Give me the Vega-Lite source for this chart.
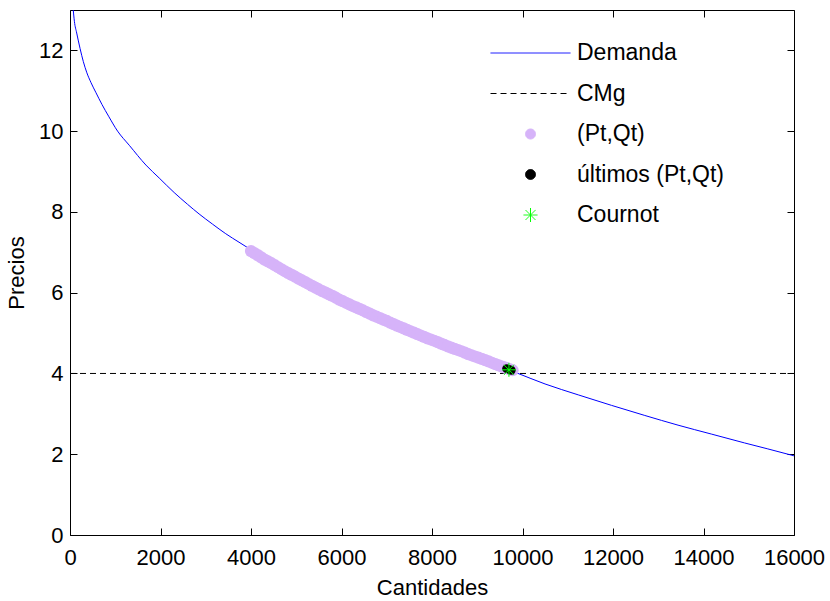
{
  "$schema": "https://vega.github.io/schema/vega-lite/v6.json",
  "width": 724,
  "height": 525,
  "autosize": {"type": "none"},
  "padding": {"left": 70, "top": 10, "right": 36, "bottom": 66},
  "background": "white",
  "config": {
    "font": "Liberation Sans",
    "view": {"stroke": null},
    "axis": {
      "domainColor": "black",
      "domainWidth": 1,
      "tickColor": "black",
      "tickWidth": 1,
      "tickSize": -7,
      "grid": false,
      "labelColor": "black",
      "labelFont": "Liberation Sans",
      "labelFontSize": 22,
      "titleColor": "black",
      "titleFont": "Liberation Sans",
      "titleFontSize": 22,
      "titleFontWeight": "normal"
    }
  },
  "data": {
    "values": [
      {"series": "Demanda", "Q": 72, "P": 13.0},
      {"series": "Demanda", "Q": 97, "P": 12.72},
      {"series": "Demanda", "Q": 148, "P": 12.43},
      {"series": "Demanda", "Q": 222, "P": 12.05},
      {"series": "Demanda", "Q": 295, "P": 11.72},
      {"series": "Demanda", "Q": 368, "P": 11.46},
      {"series": "Demanda", "Q": 465, "P": 11.2},
      {"series": "Demanda", "Q": 575, "P": 10.95},
      {"series": "Demanda", "Q": 707, "P": 10.66},
      {"series": "Demanda", "Q": 853, "P": 10.37},
      {"series": "Demanda", "Q": 1052, "P": 10.0},
      {"series": "Demanda", "Q": 1310, "P": 9.65},
      {"series": "Demanda", "Q": 1678, "P": 9.16},
      {"series": "Demanda", "Q": 1971, "P": 8.84},
      {"series": "Demanda", "Q": 2302, "P": 8.48},
      {"series": "Demanda", "Q": 2596, "P": 8.19},
      {"series": "Demanda", "Q": 2853, "P": 7.95},
      {"series": "Demanda", "Q": 3147, "P": 7.7},
      {"series": "Demanda", "Q": 3442, "P": 7.46},
      {"series": "Demanda", "Q": 3735, "P": 7.25},
      {"series": "Demanda", "Q": 3919, "P": 7.12},
      {"series": "Demanda", "Q": 4030, "P": 7.04},
      {"series": "Demanda", "Q": 5426, "P": 6.13},
      {"series": "Demanda", "Q": 6896, "P": 5.35},
      {"series": "Demanda", "Q": 8366, "P": 4.67},
      {"series": "Demanda", "Q": 9101, "P": 4.36},
      {"series": "Demanda", "Q": 9652, "P": 4.11},
      {"series": "Demanda", "Q": 9836, "P": 4.03},
      {"series": "Demanda", "Q": 10498, "P": 3.74},
      {"series": "Demanda", "Q": 11232, "P": 3.47},
      {"series": "Demanda", "Q": 11967, "P": 3.21},
      {"series": "Demanda", "Q": 12703, "P": 2.96},
      {"series": "Demanda", "Q": 13437, "P": 2.72},
      {"series": "Demanda", "Q": 14172, "P": 2.5},
      {"series": "Demanda", "Q": 14907, "P": 2.28},
      {"series": "Demanda", "Q": 15936, "P": 1.98},
      {"series": "Demanda", "Q": 16000, "P": 1.96},
      {"series": "CMg", "Q": 0, "P": 4},
      {"series": "CMg", "Q": 16000, "P": 4},
      {"series": "(Pt,Qt)", "Q": 4000, "P": 7.03},
      {"series": "(Pt,Qt)", "Q": 4075, "P": 6.98},
      {"series": "(Pt,Qt)", "Q": 4150, "P": 6.93},
      {"series": "(Pt,Qt)", "Q": 4225, "P": 6.875},
      {"series": "(Pt,Qt)", "Q": 4300, "P": 6.82},
      {"series": "(Pt,Qt)", "Q": 4375, "P": 6.775},
      {"series": "(Pt,Qt)", "Q": 4450, "P": 6.73},
      {"series": "(Pt,Qt)", "Q": 4525, "P": 6.68},
      {"series": "(Pt,Qt)", "Q": 4600, "P": 6.63},
      {"series": "(Pt,Qt)", "Q": 4675, "P": 6.58},
      {"series": "(Pt,Qt)", "Q": 4750, "P": 6.53},
      {"series": "(Pt,Qt)", "Q": 4825, "P": 6.485},
      {"series": "(Pt,Qt)", "Q": 4900, "P": 6.44},
      {"series": "(Pt,Qt)", "Q": 4975, "P": 6.395},
      {"series": "(Pt,Qt)", "Q": 5050, "P": 6.35},
      {"series": "(Pt,Qt)", "Q": 5125, "P": 6.305},
      {"series": "(Pt,Qt)", "Q": 5200, "P": 6.26},
      {"series": "(Pt,Qt)", "Q": 5275, "P": 6.215},
      {"series": "(Pt,Qt)", "Q": 5350, "P": 6.17},
      {"series": "(Pt,Qt)", "Q": 5425, "P": 6.125},
      {"series": "(Pt,Qt)", "Q": 5500, "P": 6.08},
      {"series": "(Pt,Qt)", "Q": 5575, "P": 6.04},
      {"series": "(Pt,Qt)", "Q": 5650, "P": 6.0},
      {"series": "(Pt,Qt)", "Q": 5725, "P": 5.96},
      {"series": "(Pt,Qt)", "Q": 5800, "P": 5.92},
      {"series": "(Pt,Qt)", "Q": 5875, "P": 5.875},
      {"series": "(Pt,Qt)", "Q": 5950, "P": 5.83},
      {"series": "(Pt,Qt)", "Q": 6025, "P": 5.79},
      {"series": "(Pt,Qt)", "Q": 6100, "P": 5.75},
      {"series": "(Pt,Qt)", "Q": 6175, "P": 5.71},
      {"series": "(Pt,Qt)", "Q": 6250, "P": 5.67},
      {"series": "(Pt,Qt)", "Q": 6325, "P": 5.635},
      {"series": "(Pt,Qt)", "Q": 6400, "P": 5.6},
      {"series": "(Pt,Qt)", "Q": 6475, "P": 5.56},
      {"series": "(Pt,Qt)", "Q": 6550, "P": 5.52},
      {"series": "(Pt,Qt)", "Q": 6625, "P": 5.48},
      {"series": "(Pt,Qt)", "Q": 6700, "P": 5.44},
      {"series": "(Pt,Qt)", "Q": 6775, "P": 5.405},
      {"series": "(Pt,Qt)", "Q": 6850, "P": 5.37},
      {"series": "(Pt,Qt)", "Q": 6925, "P": 5.335},
      {"series": "(Pt,Qt)", "Q": 7000, "P": 5.3},
      {"series": "(Pt,Qt)", "Q": 7075, "P": 5.26},
      {"series": "(Pt,Qt)", "Q": 7150, "P": 5.22},
      {"series": "(Pt,Qt)", "Q": 7225, "P": 5.185},
      {"series": "(Pt,Qt)", "Q": 7300, "P": 5.15},
      {"series": "(Pt,Qt)", "Q": 7375, "P": 5.115},
      {"series": "(Pt,Qt)", "Q": 7450, "P": 5.08},
      {"series": "(Pt,Qt)", "Q": 7525, "P": 5.045},
      {"series": "(Pt,Qt)", "Q": 7600, "P": 5.01},
      {"series": "(Pt,Qt)", "Q": 7675, "P": 4.975},
      {"series": "(Pt,Qt)", "Q": 7750, "P": 4.94},
      {"series": "(Pt,Qt)", "Q": 7825, "P": 4.905},
      {"series": "(Pt,Qt)", "Q": 7900, "P": 4.87},
      {"series": "(Pt,Qt)", "Q": 7975, "P": 4.84},
      {"series": "(Pt,Qt)", "Q": 8050, "P": 4.81},
      {"series": "(Pt,Qt)", "Q": 8125, "P": 4.775},
      {"series": "(Pt,Qt)", "Q": 8200, "P": 4.74},
      {"series": "(Pt,Qt)", "Q": 8275, "P": 4.705},
      {"series": "(Pt,Qt)", "Q": 8350, "P": 4.67},
      {"series": "(Pt,Qt)", "Q": 8425, "P": 4.64},
      {"series": "(Pt,Qt)", "Q": 8500, "P": 4.61},
      {"series": "(Pt,Qt)", "Q": 8575, "P": 4.58},
      {"series": "(Pt,Qt)", "Q": 8650, "P": 4.55},
      {"series": "(Pt,Qt)", "Q": 8725, "P": 4.515},
      {"series": "(Pt,Qt)", "Q": 8800, "P": 4.48},
      {"series": "(Pt,Qt)", "Q": 8875, "P": 4.45},
      {"series": "(Pt,Qt)", "Q": 8950, "P": 4.42},
      {"series": "(Pt,Qt)", "Q": 9025, "P": 4.39},
      {"series": "(Pt,Qt)", "Q": 9100, "P": 4.36},
      {"series": "(Pt,Qt)", "Q": 9175, "P": 4.33},
      {"series": "(Pt,Qt)", "Q": 9250, "P": 4.3},
      {"series": "(Pt,Qt)", "Q": 9325, "P": 4.265},
      {"series": "(Pt,Qt)", "Q": 9400, "P": 4.23},
      {"series": "(Pt,Qt)", "Q": 9475, "P": 4.2},
      {"series": "(Pt,Qt)", "Q": 9550, "P": 4.17},
      {"series": "(Pt,Qt)", "Q": 9600, "P": 4.15},
      {"series": "(Pt,Qt)", "Q": 9650, "P": 4.13},
      {"series": "(Pt,Qt)", "Q": 9715, "P": 4.105},
      {"series": "(Pt,Qt)", "Q": 9780, "P": 4.08},
      {"series": "últimos (Pt,Qt)", "Q": 9650, "P": 4.12},
      {"series": "últimos (Pt,Qt)", "Q": 9700, "P": 4.1},
      {"series": "últimos (Pt,Qt)", "Q": 9750, "P": 4.08},
      {"series": "Cournot", "Q": 9700, "P": 4.09}
    ]
  },
  "layer": [
    {
      "transform": [{"filter": "datum.series === 'Demanda'"}],
      "mark": {"type": "line", "strokeWidth": 1, "interpolate": "monotone", "clip": true},
      "encoding": {
        "x": {
          "field": "Q", "type": "quantitative",
          "scale": {"domain": [0, 16000], "nice": false, "zero": false},
          "axis": {"orient": "bottom", "title": "Cantidades", "values": [0, 2000, 4000, 6000, 8000, 10000, 12000, 14000, 16000], "format": "d", "labelPadding": 19, "titlePadding": 9, "labelFlush": false, "labelOverlap": false}
        },
        "y": {
          "field": "P", "type": "quantitative",
          "scale": {"domain": [0, 13], "nice": false, "zero": false},
          "axis": {"orient": "left", "title": "Precios", "values": [0, 2, 4, 6, 8, 10, 12], "labelPadding": 14, "titlePadding": 10, "labelFlush": false}
        },
        "color": {
          "field": "series", "type": "nominal",
          "scale": {
            "domain": ["Demanda", "CMg", "(Pt,Qt)", "últimos (Pt,Qt)", "Cournot"],
            "range": ["#0000ff", "#000000", "#d6b3f9", "#000000", "#00ff00"]
          },
          "legend": {
            "title": null,
            "orient": "none",
            "legendX": 449,
            "legendY": 31.5,
            "padding": 0,
            "labelFont": "Liberation Sans",
            "labelFontSize": 23,
            "labelColor": "black",
            "labelLimit": 400,
            "labelOffset": 35,
            "rowPadding": 16.5,
            "symbolSize": 100,
            "symbolStrokeWidth": 1,
            "encode": {
              "symbols": {
                "update": {
                  "shape": {"scale": "shape", "field": "value"},
                  "strokeDash": {"scale": "strokeDash", "field": "value"},
                  "fill": {"scale": "color", "field": "value"},
                  "stroke": {"scale": "color", "field": "value"},
                  "opacity": {"value": 1}
                }
              }
            }
          }
        }
      }
    },
    {
      "transform": [{"filter": "datum.series === 'CMg'"}],
      "mark": {"type": "line", "strokeWidth": 1},
      "encoding": {
        "x": {
          "field": "Q", "type": "quantitative",
          "axis": {"orient": "top", "title": null, "labels": false, "values": [0, 2000, 4000, 6000, 8000, 10000, 12000, 14000, 16000]}
        },
        "y": {
          "field": "P", "type": "quantitative",
          "axis": {"orient": "right", "title": null, "labels": false, "values": [0, 2, 4, 6, 8, 10, 12]}
        },
        "color": {"field": "series", "type": "nominal", "legend": null},
        "strokeDash": {
          "field": "series", "type": "nominal",
          "scale": {
            "domain": ["Demanda", "CMg", "(Pt,Qt)", "últimos (Pt,Qt)", "Cournot"],
            "range": [[1, 0], [6, 4], [1, 0], [1, 0], [1, 0]]
          },
          "legend": null
        }
      }
    },
    {
      "transform": [{"filter": "datum.series === '(Pt,Qt)'"}],
      "mark": {"type": "point", "filled": true, "opacity": 1, "size": 150},
      "encoding": {
        "x": {"field": "Q", "type": "quantitative", "axis": null},
        "y": {"field": "P", "type": "quantitative", "axis": null},
        "color": {"field": "series", "type": "nominal", "legend": null},
        "shape": {
          "field": "series", "type": "nominal",
          "scale": {
            "domain": ["Demanda", "CMg", "(Pt,Qt)", "últimos (Pt,Qt)", "Cournot"],
            "range": ["M-8,0L8,0", "M-8,0L8,0", "circle", "circle", "M0,-1.4L0,1.4M-1.4,0L1.4,0M-1,-1L1,1M-1,1L1,-1"]
          },
          "legend": null
        }
      }
    },
    {
      "transform": [{"filter": "datum.series === 'últimos (Pt,Qt)'"}],
      "mark": {"type": "point", "filled": true, "opacity": 1, "size": 80},
      "encoding": {
        "x": {"field": "Q", "type": "quantitative", "axis": null},
        "y": {"field": "P", "type": "quantitative", "axis": null},
        "color": {"field": "series", "type": "nominal", "legend": null},
        "shape": {"field": "series", "type": "nominal", "legend": null}
      }
    },
    {
      "transform": [{"filter": "datum.series === 'Cournot'"}],
      "mark": {"type": "point", "filled": false, "opacity": 1, "size": 100, "strokeWidth": 1},
      "encoding": {
        "x": {"field": "Q", "type": "quantitative", "axis": null},
        "y": {"field": "P", "type": "quantitative", "axis": null},
        "color": {"field": "series", "type": "nominal", "legend": null},
        "shape": {"field": "series", "type": "nominal", "legend": null}
      }
    }
  ]
}
